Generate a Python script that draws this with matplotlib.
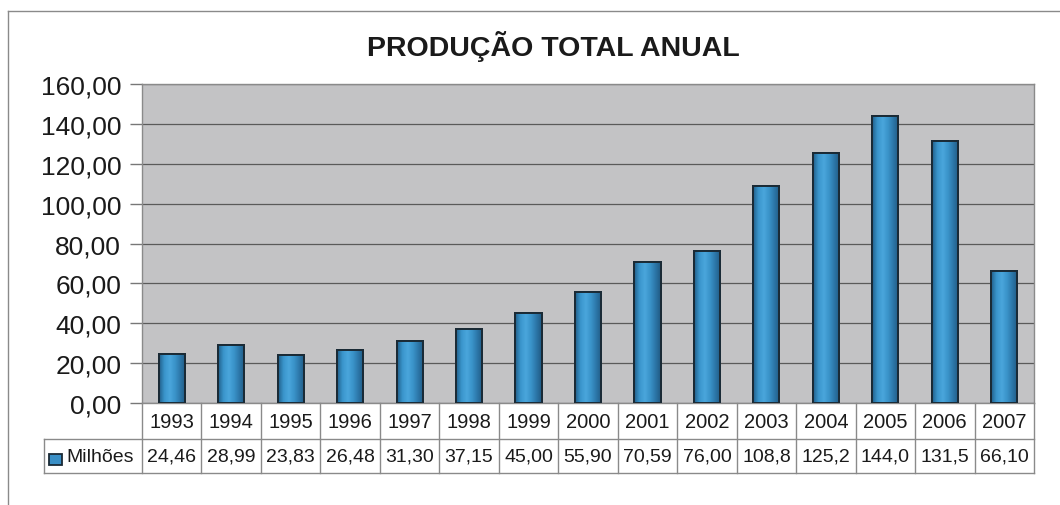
import matplotlib
matplotlib.use("Agg")
import matplotlib.pyplot as plt
import numpy as np
from matplotlib.colors import LinearSegmentedColormap
from matplotlib.lines import Line2D
from matplotlib.patches import Rectangle
import matplotlib.transforms as mtransforms

plt.rcParams['font.family'] = ['Liberation Sans', 'DejaVu Sans']

years = ["1993", "1994", "1995", "1996", "1997", "1998", "1999", "2000",
         "2001", "2002", "2003", "2004", "2005", "2006", "2007"]
values = [24.46, 28.99, 23.83, 26.48, 31.30, 37.15, 45.00, 55.90,
          70.59, 76.00, 108.8, 125.2, 144.0, 131.5, 66.10]
value_labels = ["24,46", "28,99", "23,83", "26,48", "31,30", "37,15", "45,00", "55,90",
                "70,59", "76,00", "108,8", "125,2", "144,0", "131,5", "66,10"]
series_name = "Milhões"
title = "PRODUÇÃO TOTAL ANUAL"
yticks = [0, 20, 40, 60, 80, 100, 120, 140, 160]

fig = plt.figure(figsize=(10.6, 5.06), dpi=100)
W, H = 1060, 506
ax = fig.add_axes([142 / W, 1 - 404 / H, (1034 - 142) / W, (404 - 85) / H])
ax.set_facecolor("#c3c3c5")

x = np.arange(len(years))
bars = ax.bar(x, values, width=0.44, color="#3a8fc6", edgecolor="#1a2a35",
              linewidth=1.4, zorder=3)

cmap = LinearSegmentedColormap.from_list(
    "cyl", ["#215f8a", "#3a95cc", "#4aa6dc", "#3a93c9", "#2c76a8", "#205a82"])
grad = np.linspace(0, 1, 64).reshape(1, -1)
for b in bars:
    bx, by, bw, bh = b.get_x(), b.get_y(), b.get_width(), b.get_height()
    im = ax.imshow(grad, cmap=cmap, aspect="auto", extent=[bx, bx + bw, by, by + bh],
                   zorder=3.5, interpolation="bilinear")
    im.set_clip_path(b)
    edge = Rectangle((bx, by), bw, bh, fill=False, edgecolor="#1a2a35",
                     linewidth=1.4, zorder=4)
    ax.add_patch(edge)

ax.set_xlim(-0.5, len(years) - 0.5)
ax.set_ylim(0, 160)
ax.set_yticks(yticks)
ax.set_yticklabels([f"{v:.2f}".replace(".", ",") for v in yticks], fontsize=19, color="#1a1a1a")
ax.tick_params(axis="y", direction="out", length=9, width=1, color="#777777", pad=6)
ax.set_xticks([])
ax.grid(axis="y", color="#5a5a5a", linewidth=0.9, zorder=1)
ax.set_axisbelow(True)
for s in ax.spines.values():
    s.set_color("#8a8a8a")
    s.set_linewidth(1)

# Title
fig.text(553 / W, 1 - 47 / H, title, ha="center", va="center",
         fontsize=20.5, fontweight="bold", color="#1a1a1a")

# Data table below the axes
trans = mtransforms.blended_transform_factory(ax.transData, ax.transAxes)
axh = 404 - 85
r1 = -36 / axh
r2 = -70 / axh
leg_left = (44 - 142) / (1034 - 142)
lc = "#8a8a8a"
n = len(years)
ax.add_line(Line2D([leg_left, 1], [r1, r1], transform=ax.transAxes, color=lc, lw=1, clip_on=False))
ax.add_line(Line2D([leg_left, 1], [r2, r2], transform=ax.transAxes, color=lc, lw=1, clip_on=False))
ax.add_line(Line2D([leg_left, leg_left], [r1, r2], transform=ax.transAxes, color=lc, lw=1, clip_on=False))
for i in range(n + 1):
    ax.add_line(Line2D([i - 0.5, i - 0.5], [0, r2], transform=trans, color=lc, lw=1, clip_on=False))
for i in range(n):
    ax.text(x[i], r1 / 2, years[i], transform=trans, ha="center", va="center",
            fontsize=14.5, color="#1a1a1a", clip_on=False)
    ax.text(x[i], (r1 + r2) / 2, value_labels[i], transform=trans, ha="center", va="center",
            fontsize=14, color="#1a1a1a", clip_on=False)

# legend key in table
fig.patches.append(Rectangle((49 / W, 1 - 466 / H), 13 / W, 11 / H, transform=fig.transFigure,
                             facecolor="#3a8fc6", edgecolor="#1a2a35", lw=1.3))
fig.text(66 / W, 1 - 458 / H, series_name, ha="left", va="center", fontsize=14, color="#1a1a1a")

# outer chart frame
fig.add_artist(Line2D([8 / W, 1.0], [1 - 12 / H, 1 - 12 / H], transform=fig.transFigure,
                      color="#8a8a8a", lw=1))
fig.add_artist(Line2D([8 / W, 8 / W], [1 - 12 / H, 0], transform=fig.transFigure,
                      color="#8a8a8a", lw=1))

fig.savefig("out.png", dpi=100, facecolor="white")
